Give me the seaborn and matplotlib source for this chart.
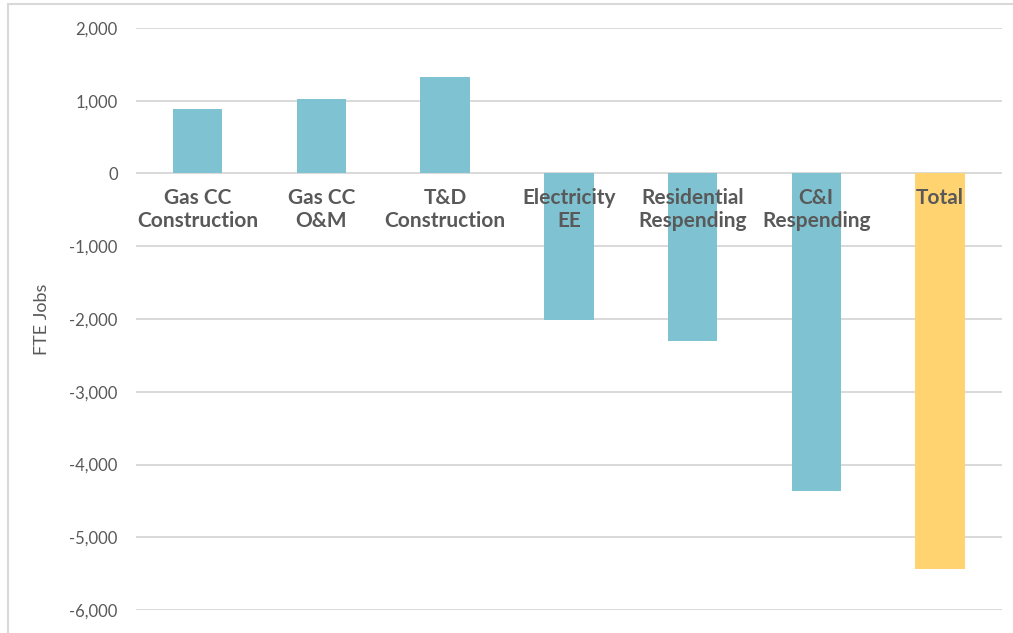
import matplotlib
matplotlib.use("Agg")
import matplotlib.pyplot as plt
import seaborn as sns
import pandas as pd
from matplotlib.patches import Rectangle
from matplotlib.ticker import FuncFormatter

categories = ["Gas CC\nConstruction", "Gas CC\nO&M", "T&D\nConstruction",
              "Electricity\nEE", "Residential\nRespending", "C&I\nRespending", "Total"]
jobs = [880, 1020, 1330, -2020, -2300, -4360, -5440]
kinds = ["part", "part", "part", "part", "part", "part", "total"]
y_ticks = [2000, 1000, 0, -1000, -2000, -3000, -4000, -5000, -6000]

palette = {"part": "#7fc3d3", "total": "#ffd36f"}
text_color = "#595959"
grid_color = "#d9d9d9"

sns.set_theme(style="white")
plt.rcParams["font.family"] = ["Lato", "DejaVu Sans"]

df = pd.DataFrame({"category": categories, "jobs": jobs, "kind": kinds})

fig = plt.figure(figsize=(10.13, 6.33), dpi=100)
ax = fig.add_axes([0.134, 0.0363, 0.855, 0.9195])

sns.barplot(data=df, x="category", y="jobs", hue="kind", palette=palette,
            dodge=False, width=0.4, legend=False, saturation=1, linewidth=0,
            ax=ax, zorder=3)

ax.set_ylim(-6000, 2000)
ax.set_xlim(-0.5, len(categories) - 0.5)
ax.set_yticks(y_ticks)
ax.yaxis.set_major_formatter(FuncFormatter(lambda v, p: f"{int(v):,}"))
ax.grid(axis="y", color=grid_color, linewidth=1.4, zorder=0)
ax.set_axisbelow(True)
for s in ax.spines.values():
    s.set_visible(False)
ax.tick_params(axis="y", length=0, pad=13, labelsize=12, labelcolor=text_color)
ax.set_xticks([])
ax.set_xlabel("")
ax.set_ylabel("FTE Jobs", fontsize=13, color=text_color, labelpad=14)

# category labels sit just under the zero line, on top of the bars
for i, name in enumerate(categories):
    ax.text(i, -205, name, ha="center", va="top", fontsize=15, fontweight="bold",
            color=text_color, linespacing=1.15, zorder=5)

# light frame around the chart area
fig.patches.append(Rectangle((8 / 1013, -0.1), 1.2, 1 - 4 / 633 + 0.1,
                             transform=fig.transFigure, fill=False,
                             edgecolor=grid_color, linewidth=1.5))

fig.savefig("out.png", dpi=100)
